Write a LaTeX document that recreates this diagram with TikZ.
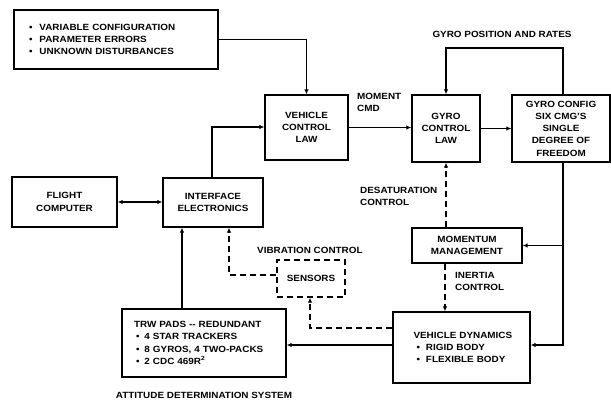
\documentclass[tikz,border=0pt]{standalone}
\usepackage{fontspec}
\setmainfont{Liberation Sans}[FakeStretch=1.1]
\usetikzlibrary{arrows.meta}
\begin{document}
\begin{tikzpicture}[x=1pt,y=-1pt,
  every node/.style={font=\bfseries\fontsize{9}{12.3}\selectfont},
  blk/.style={draw,line width=1.3pt,align=center,inner sep=2pt},
  lbl/.style={align=left,inner sep=0pt},
  ln/.style={line width=1.2pt},
  arr/.style={ln,-{Latex[length=5pt,width=4.5pt]}},
  darr/.style={ln,{Latex[length=5pt,width=4.5pt]}-{Latex[length=5pt,width=4.5pt]}},
  dsh/.style={dash pattern=on 6pt off 4pt}]
\useasboundingbox (0,0) rectangle (611,400);
\node[blk,align=left,minimum width=204pt,minimum height=59pt,text width=194pt] (dist) at (116,39.5)
  {\hspace*{10pt}\textbullet\hspace{7pt}VARIABLE CONFIGURATION\\\hspace*{10pt}\textbullet\hspace{7pt}PARAMETER ERRORS\\\hspace*{10pt}\textbullet\hspace{7pt}UNKNOWN DISTURBANCES};
\node[blk,minimum width=83pt,minimum height=65pt] (vcl) at (306.5,127.5) {VEHICLE\\CONTROL\\LAW};
\node[blk,minimum width=68pt,minimum height=67pt] (gcl) at (446,128.5) {GYRO\\CONTROL\\LAW};
\node[blk,minimum width=98pt,minimum height=67pt,inner sep=1pt] (gcfg) at (561,128.5) {GYRO CONFIG\\SIX CMG'S\\SINGLE\\DEGREE OF\\FREEDOM};
\node[blk,minimum width=105pt,minimum height=50pt] (fc) at (64.5,202) {FLIGHT\\COMPUTER};
\node[blk,minimum width=100pt,minimum height=49pt] (ie) at (213,202.5) {INTERFACE\\ELECTRONICS};
\node[blk,minimum width=110pt,minimum height=35pt] (mm) at (467,245.5) {MOMENTUM\\MANAGEMENT};
\node[blk,dsh,minimum width=68pt,minimum height=37pt] (sens) at (311,278.5) {SENSORS};
\node[blk,align=left,minimum width=137pt,minimum height=71pt,text width=130pt] (vd) at (461.5,347.5)
  {\hspace*{17pt}VEHICLE DYNAMICS\\\hspace*{20pt}\textbullet\hspace{6pt}RIGID BODY\\\hspace*{20pt}\textbullet\hspace{6pt}FLEXIBLE BODY};
\node[blk,align=left,minimum width=164pt,minimum height=68pt,text width=156pt] (ads) at (204,343)
  {\hspace*{8pt}TRW PADS -{}-{} REDUNDANT\\\hspace*{10pt}\textbullet\hspace{5pt}4 STAR TRACKERS\\\hspace*{10pt}\textbullet\hspace{5pt}8 GYROS, 4 TWO-PACKS\\\hspace*{10pt}\textbullet\hspace{5pt}2 CDC 469R\textsuperscript{2}};
% labels
\node[lbl] (gpr) at (502,34) {GYRO POSITION AND RATES};
\node[lbl,anchor=north west] (mcmd) at (357,93) {MOMENT\\CMD};
\node[lbl,anchor=north west] (desat) at (360,187) {DESATURATION\\CONTROL};
\node[lbl,anchor=north west] (inert) at (455,272) {INERTIA\\CONTROL};
\node[lbl,anchor=west] (vib) at (257,250) {VIBRATION CONTROL};
\node[lbl] (adsl) at (204,395) {ATTITUDE DETERMINATION SYSTEM};
% coordinates
\coordinate (gp) at (563,48);
\coordinate (gr) at (563,345);
\coordinate (ieup) at (212,127);
\coordinate (adx) at (182,0);
\coordinate (vbx) at (229,275);
\coordinate (vdx) at (310,328);
% connectors
\draw[arr] (dist.east) -| (vcl.north);
\draw[arr] (vcl.east) -- (vcl.east -| gcl.west);
\draw[arr] (gcl.east) -- (gcl.east -| gcfg.west);
\draw[arr] (gcfg.north -| gp) -- (gp) -| (gcl.north);
\draw[darr] (fc.east) -- (fc.east -| ie.west);
\draw[arr] (ie.north -| ieup) -- (ieup) -- (ieup -| vcl.west);
\draw[arr] (ads.north -| adx) -- (ie.south -| adx);
\draw[arr,dsh] (vbx -| sens.west) -- (vbx) -- (vbx |- ie.south);
\draw[arr,dsh] (vdx -| vd.west) -- (vdx) -- (vdx |- sens.south);
\draw[arr] (gr -| vd.west) -- (gr -| ads.east);
\draw[arr] (gcfg.south -| gr) -- (gr) -- (gr -| vd.east);
\draw[arr] (mm.east -| gr) -- (mm.east);
\draw[arr,dsh] (mm.north -| gcl.south) -- (gcl.south);
\draw[arr,dsh] (mm.south -| 445,0) -- (vd.north -| 445,0);
\end{tikzpicture}
\end{document}
